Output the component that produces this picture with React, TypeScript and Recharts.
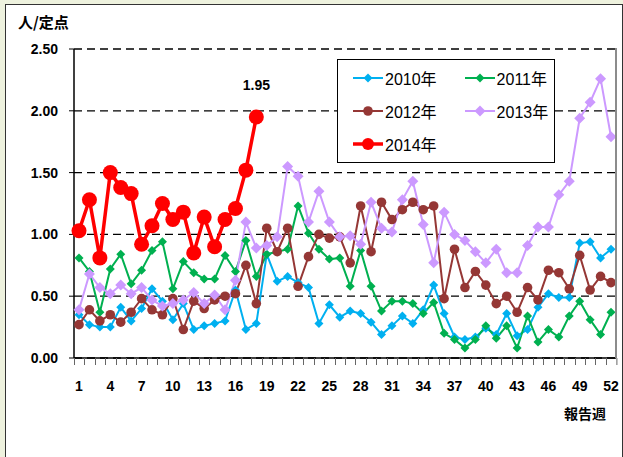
import React from 'react';
import { LineChart, Line, XAxis, YAxis, CartesianGrid, LabelList } from 'recharts';

// 週別 定点当たり報告数
const weeks = Array.from({ length: 52 }, (_, i) => i + 1);

const s2010 = [0.35, 0.27, 0.25, 0.25, 0.41, 0.30, 0.40, 0.56, 0.46, 0.31, 0.44, 0.23, 0.26, 0.28, 0.30, 0.55, 0.23, 0.28, 0.84, 0.62,
  0.66, 0.61, 0.57, 0.28, 0.43, 0.33, 0.38, 0.36, 0.29, 0.19, 0.26, 0.34, 0.28, 0.39, 0.59, 0.36, 0.17, 0.15, 0.17, 0.24,
  0.19, 0.36, 0.18, 0.23, 0.41, 0.52, 0.49, 0.49, 0.93, 0.94, 0.81, 0.88];
const s2011 = [0.81, 0.70, 0.37, 0.72, 0.84, 0.60, 0.71, 0.87, 0.94, 0.56, 0.78, 0.69, 0.64, 0.64, 0.83, 0.70, 0.95, 0.66, 0.84, 0.86,
  0.88, 1.23, 1.01, 0.88, 0.80, 0.81, 0.58, 0.87, 0.58, 0.38, 0.46, 0.46, 0.44, 0.36, 0.45, 0.20, 0.15, 0.08, 0.15, 0.26,
  0.16, 0.26, 0.08, 0.34, 0.13, 0.23, 0.17, 0.34, 0.46, 0.31, 0.19, 0.37];
const s2012 = [0.27, 0.39, 0.30, 0.35, 0.29, 0.37, 0.48, 0.39, 0.35, 0.48, 0.23, 0.46, 0.40, 0.47, 0.50, 0.52, 0.75, 0.44, 1.05, 0.86,
  1.05, 0.58, 0.82, 1.00, 0.97, 0.98, 0.77, 1.23, 0.86, 1.26, 1.12, 1.20, 1.26, 1.20, 1.23, 0.48, 0.88, 0.57, 0.70, 0.59,
  0.44, 0.50, 0.37, 0.57, 0.47, 0.71, 0.69, 0.56, 0.83, 0.55, 0.66, 0.61];
const s2013 = [0.39, 0.68, 0.57, 0.52, 0.59, 0.52, 0.57, 0.47, 0.42, 0.44, 0.47, 0.53, 0.44, 0.51, 0.39, 0.63, 1.10, 0.89, 0.91, 0.98,
  1.55, 1.47, 1.10, 1.35, 1.10, 0.98, 0.99, 0.92, 1.26, 1.05, 1.02, 1.28, 1.43, 1.08, 0.77, 1.18, 1.00, 0.95, 0.86, 0.77,
  0.88, 0.69, 0.69, 0.91, 1.06, 1.06, 1.32, 1.43, 1.94, 2.07, 2.26, 1.79];
const s2014 = [1.03, 1.28, 0.81, 1.50, 1.38, 1.33, 0.92, 1.07, 1.25, 1.12, 1.18, 0.85, 1.14, 0.90, 1.12, 1.21, 1.52, 1.95];

const yTicks = [0, 0.5, 1, 1.5, 2, 2.5];

const data = weeks.map((w, i) => ({
  week: w,
  y2010: s2010[i],
  y2011: s2011[i],
  y2012: s2012[i],
  y2013: s2013[i],
  y2014: i < s2014.length ? s2014[i] : null,
}));

const FONT = '"Liberation Sans", Arial, "Noto Sans CJK JP", sans-serif';
const HALF_STEP = 5.2;

type Marker = 'diamond' | 'circle';

const series = [
  { key: 'y2010', name: '2010年', color: '#00B0F0', marker: 'diamond' as Marker, size: 4.5, width: 2 },
  { key: 'y2011', name: '2011年', color: '#00B050', marker: 'diamond' as Marker, size: 4.5, width: 2 },
  { key: 'y2012', name: '2012年', color: '#953735', marker: 'circle' as Marker, size: 4.8, width: 2 },
  { key: 'y2013', name: '2013年', color: '#CC99FF', marker: 'diamond' as Marker, size: 5.5, width: 2 },
  { key: 'y2014', name: '2014年', color: '#FF0000', marker: 'circle' as Marker, size: 7.5, width: 3.5 },
];

function markerShape(m: Marker, cx: number, cy: number, r: number, color: string, key?: any) {
  if (m === 'circle') return <circle key={key} cx={cx} cy={cy} r={r} fill={color} stroke="none" />;
  return (
    <polygon
      key={key}
      points={`${cx},${cy - r} ${cx + r},${cy} ${cx},${cy + r} ${cx - r},${cy}`}
      fill={color}
      stroke="none"
    />
  );
}

const makeDot = (s: typeof series[number]) => (props: any) => {
  const { cx, cy, index, value } = props;
  if (value == null || cx == null || cy == null) return <g key={`d-${s.key}-${index}`} />;
  return markerShape(s.marker, cx, cy, s.size, s.color, `d-${s.key}-${index}`);
};

const WeekTick = (props: any) => {
  const { x, y, payload, index } = props;
  const i = payload?.index ?? index;
  const lx = Math.round(x - HALF_STEP) + 0.5;
  return (
    <g>
      <line x1={lx} x2={lx} y1={y} y2={y + 7} stroke="#666" strokeWidth={1} />
      {i === weeks.length - 1 && (
        <line x1={lx + 2 * HALF_STEP} x2={lx + 2 * HALF_STEP} y1={y} y2={y + 7} stroke="#666" strokeWidth={1} />
      )}
      {i % 3 === 0 && (
        <text x={x} y={y + 33} textAnchor="middle" fontSize={14} fontWeight="bold" fill="#000" fontFamily={FONT}>
          {payload.value}
        </text>
      )}
    </g>
  );
};

const LegendBox = () => {
  const rows = [
    [series[0], series[1]],
    [series[2], series[3]],
    [series[4]],
  ];
  return (
    <div
      style={{
        position: 'absolute',
        left: 337,
        top: 59,
        width: 218,
        height: 104,
        border: '1px solid #000',
        background: '#fff',
        boxSizing: 'border-box',
        paddingTop: 1,
        fontFamily: FONT,
      }}
    >
      {rows.map((row, ri) => (
        <div key={ri} style={{ display: 'flex', height: 33, alignItems: 'center' }}>
          {row.map((s, ci) => (
            <div key={s.key} style={{ display: 'flex', alignItems: 'center', marginLeft: ci === 0 ? 14 : 27 }}>
              <svg width={32} height={18}>
                <line x1={1} x2={31} y1={9} y2={9} stroke={s.color} strokeWidth={s.width} />
                {markerShape(s.marker, 16, 9, Math.min(s.size, 6), s.color)}
              </svg>
              <span style={{ fontSize: 16, color: '#000', marginLeft: 1 }}>{s.name}</span>
            </div>
          ))}
        </div>
      ))}
    </div>
  );
};

const PeakLabel = (props: any) => {
  const { x, y, index, value } = props;
  if (index !== s2014.length - 1) return null;
  return (
    <text x={x} y={y - 27} textAnchor="middle" fontSize={14} fontWeight="bold" fill="#000" fontFamily={FONT}>
      {Number(value).toFixed(2)}
    </text>
  );
};

export default function App() {
  return (
    <div
      style={{
        position: 'fixed',
        left: 0,
        top: 0,
        width: 623,
        height: 457,
        overflow: 'hidden',
        background: '#EEF2DE',
      }}
    >
      <div
        style={{
          position: 'absolute',
          left: 5,
          top: 4,
          width: 618,
          height: 480,
          border: '1px solid #333',
          background: '#fff',
          boxSizing: 'border-box',
        }}
      />
      <div
        style={{
          position: 'absolute',
          left: 18,
          top: 11,
          fontSize: 15,
          fontWeight: 'bold',
          fontFamily: '"Noto Sans CJK JP", sans-serif',
          color: '#000',
        }}
      >
        人/定点
      </div>
      <div
        style={{
          position: 'absolute',
          left: 564,
          top: 403,
          fontSize: 14,
          fontWeight: 'bold',
          fontFamily: '"Noto Sans CJK JP", sans-serif',
          color: '#000',
        }}
      >
        報告週
      </div>
      <div style={{ position: 'absolute', left: 0, top: 0, width: 623, height: 457 }}>
        <LineChart
          width={623}
          height={457}
          data={data}
          margin={{ top: 49, right: 7, left: 0, bottom: 69 }}
          style={{ overflow: 'visible' }}
        >
          <CartesianGrid vertical={false} stroke="#000" strokeDasharray="8 5" strokeWidth={1.3} />
          <XAxis
            dataKey="week"
            interval={0}
            padding={{ left: 5, right: 5 }}
            axisLine={{ stroke: '#000', strokeWidth: 1.5 }}
            tickLine={false}
            tickSize={0}
            tickMargin={0}
            height={30}
            tick={<WeekTick />}
          />
          <XAxis
            xAxisId="top"
            orientation="top"
            dataKey="week"
            height={0}
            tick={false}
            tickLine={false}
            axisLine={{ stroke: '#000', strokeWidth: 2 }}
          />
          <YAxis
            domain={[0, 2.5]}
            ticks={yTicks}
            width={74}
            interval={0}
            tickFormatter={(v: number) => v.toFixed(2)}
            tick={{ fontSize: 14, fontWeight: 'bold', fill: '#000', fontFamily: FONT }}
            tickSize={5}
            tickMargin={11}
            tickLine={{ stroke: '#000' }}
            axisLine={{ stroke: '#000', strokeWidth: 1.5 }}
          />
          {series.map((s) => (
            <Line
              key={s.key}
              dataKey={s.key}
              name={s.name}
              type="linear"
              stroke={s.color}
              strokeWidth={s.width}
              dot={makeDot(s)}
              activeDot={false}
              connectNulls={false}
              isAnimationActive={false}
            >
              {s.key === 'y2014' && <LabelList dataKey="y2014" content={<PeakLabel />} />}
            </Line>
          ))}
        </LineChart>
      </div>
      {/* plot frame: right edge */}
      <div
        style={{
          position: 'absolute',
          left: 615,
          top: 48,
          width: 0,
          height: 310,
          borderRight: '2px solid #8c8c8c',
          pointerEvents: 'none',
        }}
      />
      <LegendBox />
    </div>
  );
}
